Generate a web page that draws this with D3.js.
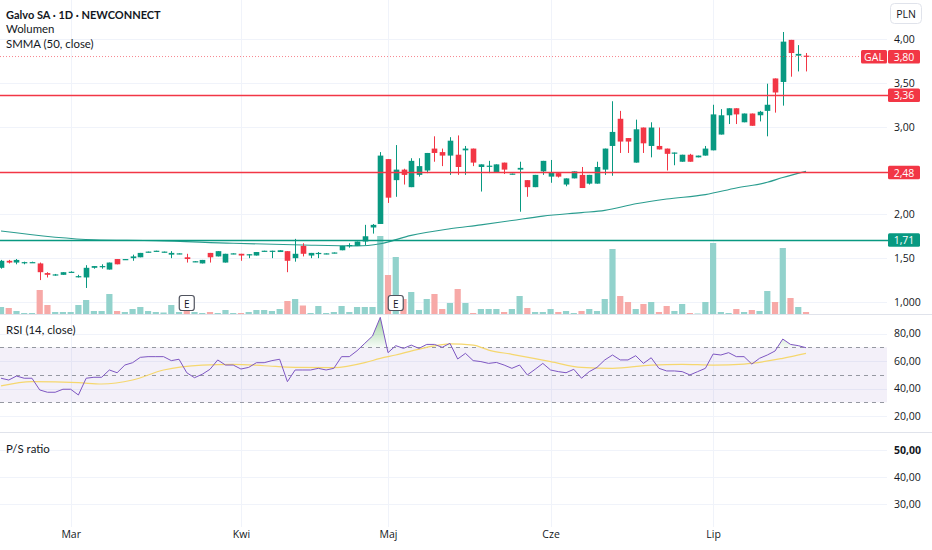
<!DOCTYPE html>
<html><head><meta charset="utf-8">
<script src="https://cdn.jsdelivr.net/npm/d3@7"></script>
<style>body{margin:0;background:#fff}svg{display:block}text{font-family:"Open Sans","Noto Sans",sans-serif}</style>
</head><body><svg id="c" width="932" height="550"></svg>
<script>
// ---- data ----
const opens = [1.39,1.47,1.45,1.45,1.45,1.44,1.33,1.31,1.31,1.34,
 1.29,1.28,1.39,1.40,1.37,1.49,1.485,1.50,1.51,1.57,
 1.58,1.57,1.54,1.55,1.51,1.46,1.44,1.56,1.52,1.45,
 1.55,1.55,1.54,1.53,1.58,1.58,1.57,1.58,1.50,1.64,
 1.53,1.55,1.55,1.56,1.59,1.64,1.64,1.69,1.85,1.89,
 2.63,2.39,2.51,2.31,2.45,2.50,2.75,2.71,2.67,2.68,
 2.73,2.75,2.54,2.55,2.48,2.59,2.46,2.51,2.39,2.31,
 2.49,2.43,2.47,2.34,2.41,2.45,2.35,2.35,2.51,2.78,
 3.09,2.87,2.59,2.99,2.78,2.78,2.75,2.70,2.60,2.68,
 2.65,2.67,2.73,2.91,3.13,3.21,3.05,3.15,3.13,3.18,
 3.55,3.51,3.99,3.81,3.81];
const highs = [1.48,1.48,1.49,1.46,1.46,1.45,1.34,1.32,1.34,1.35,
 1.31,1.42,1.41,1.43,1.45,1.49,1.49,1.54,1.56,1.575,
 1.585,1.575,1.58,1.555,1.55,1.465,1.48,1.56,1.58,1.55,
 1.555,1.55,1.545,1.57,1.585,1.585,1.59,1.58,1.72,1.67,
 1.56,1.57,1.555,1.565,1.64,1.67,1.69,1.88,1.89,2.71,
 2.63,2.79,2.52,2.64,2.64,2.70,2.89,2.75,2.88,2.90,
 2.78,2.75,2.57,2.61,2.57,2.59,2.465,2.60,2.39,2.45,
 2.61,2.62,2.48,2.41,2.49,2.54,2.45,2.60,2.75,3.29,
 3.18,2.87,3.08,2.99,3.05,2.99,2.75,2.705,2.68,2.69,
 2.67,2.78,3.25,3.20,3.21,3.21,3.15,3.15,3.18,3.49,
 3.55,4.08,3.99,3.93,3.84];
const lows = [1.38,1.44,1.43,1.43,1.45,1.25,1.28,1.30,1.31,1.34,
 1.28,1.16,1.38,1.38,1.37,1.43,1.48,1.47,1.51,1.565,
 1.575,1.565,1.50,1.545,1.45,1.455,1.44,1.45,1.52,1.45,
 1.545,1.47,1.50,1.53,1.575,1.50,1.57,1.34,1.46,1.52,
 1.50,1.50,1.545,1.555,1.59,1.62,1.64,1.65,1.78,1.89,
 2.13,2.20,2.34,2.31,2.43,2.47,2.60,2.55,2.45,2.45,
 2.45,2.55,2.26,2.47,2.48,2.46,2.455,2.03,2.20,2.31,
 2.45,2.36,2.42,2.32,2.41,2.30,2.34,2.35,2.45,2.44,
 2.70,2.70,2.59,2.70,2.65,2.74,2.50,2.56,2.60,2.60,
 2.65,2.67,2.73,2.91,3.03,3.03,3.05,3.01,3.06,2.89,
 3.16,3.24,3.57,3.63,3.63];
const closes = [1.47,1.45,1.48,1.455,1.455,1.34,1.31,1.315,1.34,1.345,
 1.295,1.39,1.41,1.41,1.45,1.43,1.49,1.52,1.56,1.575,
 1.585,1.575,1.56,1.555,1.49,1.465,1.48,1.51,1.58,1.55,
 1.555,1.53,1.545,1.57,1.585,1.585,1.59,1.47,1.55,1.55,
 1.56,1.56,1.555,1.565,1.64,1.65,1.69,1.75,1.88,2.67,
 2.19,2.51,2.45,2.61,2.55,2.70,2.70,2.67,2.84,2.54,
 2.75,2.59,2.57,2.555,2.57,2.51,2.465,2.53,2.31,2.45,
 2.61,2.48,2.43,2.41,2.49,2.30,2.45,2.54,2.75,2.94,
 2.83,2.83,2.97,2.81,2.99,2.74,2.69,2.705,2.68,2.60,
 2.67,2.75,3.14,3.13,3.21,3.14,3.15,3.01,3.17,3.25,
 3.39,3.97,3.84,3.83,3.80];
const volumes = [70,60,30,10,10,240,90,20,20,20,
 90,140,30,30,200,30,20,50,70,30,
 20,15,90,20,30,20,10,20,10,40,
 10,10,20,40,40,30,50,130,150,85,
 10,80,10,20,80,20,70,70,70,780,
 390,570,150,220,40,150,200,50,110,250,
 110,10,50,50,50,20,50,180,60,20,
 20,50,20,30,10,30,50,30,150,650,
 180,120,50,100,120,20,80,30,100,10,
 5,120,710,20,10,50,20,40,30,230,
 120,660,160,70,20];
const rsiValues = [47.5,46.2,49.1,47.5,47.5,39.0,37.3,37.3,39.5,39.5,
 35.3,47.5,48.2,48.2,53.5,51.5,57.1,58.8,62.7,63.2,
 63.2,63.2,60.3,61.3,51.5,47.9,50.4,54.0,60.8,57.1,
 57.1,54.2,55.4,58.8,58.8,60.3,61.3,45.0,53.5,53.5,
 53.5,54.7,53.5,54.7,63.2,63.2,67.5,72.9,78.2,91.8,
 66.1,71.2,69.2,71.6,69.2,72.1,72.1,70.0,72.9,61.5,
 65.6,60.3,59.6,58.3,59.0,57.1,54.7,57.1,49.9,54.0,
 58.3,53.5,52.3,51.5,54.0,47.5,52.3,55.4,60.8,64.4,
 60.8,60.8,63.9,58.3,62.4,54.7,52.8,52.8,52.3,49.9,
 52.3,54.7,65.1,64.4,66.1,63.2,63.2,57.8,62.0,64.4,
 67.3,76.0,72.1,71.2,69.7];
const rsiMaBars = [0,4,10,13,17,21,26,30,34,38,43,47,49,51,55,58,61,63,66,71,75,79,84,88,92,96,101,104];
const rsiMaValues = [41.9,45,44.3,43.3,46.2,53.5,57.1,57.6,56.6,55.4,55.2,58.8,62,64.4,70,72.5,71.6,68,64.9,59.6,55.4,54.7,57.1,57.6,57.1,57.8,62,65.6];
const smmaBars = [0,12,20,30,39,46,49,53,58,62,66,70,75,78,82,86,91,95,99,101,104];
const smmaValues = [1.81,1.71,1.70,1.67,1.65,1.64,1.665,1.76,1.835,1.88,1.93,1.98,2.02,2.045,2.12,2.175,2.225,2.30,2.365,2.42,2.49];
const levelValues = [3.36, 2.48, 1.71];
const levelLabels = ["3,36","2,48","1,71"];
const lastLabel = "3,80";
const earningsBars = [24, 51];
const monthBars = [9, 31, 50, 71, 92];
const monthLabels = ["Mar","Kwi","Maj","Cze","Lip"];
const priceTicks = [1.0, 1.5, 2.0, 3.0, 3.5, 4.0];
const priceTickLabels = ["1,000","1,50","2,00","3,00","3,50","4,00"];
const rsiTicks = [20, 40, 60, 80];
const rsiTickLabels = ["20,00","40,00","60,00","80,00"];
const rsiBands = [70, 50, 30];
const psTicks = [30, 40, 50];
const psTickLabels = ["30,00","40,00","50,00"];

// ---- chart ----
const GREEN = "#089981", RED = "#f23645", TXT = "#131722";
const PLOT_R = 887;
const svg = d3.select("#c");
const x = d3.scaleLinear().domain([0, 104]).range([1, 806]);
const yP = d3.scaleLinear().domain([1, 4]).range([302, 39]);
const yV = d3.scaleLinear().domain([0, 780]).range([314, 236]);
const yR = d3.scaleLinear().domain([30, 70]).range([402.3, 347.3]);
const yS = d3.scaleLinear().domain([30, 50]).range([504, 450]);

const defs = svg.append("defs");
defs.append("clipPath").attr("id","pclip").append("rect").attr("x",0).attr("y",0).attr("width",PLOT_R).attr("height",314);
defs.append("clipPath").attr("id","obclip").append("rect").attr("x",0).attr("y",315).attr("width",PLOT_R).attr("height",yR(70)-315);
const grad = defs.append("linearGradient").attr("id","obg").attr("gradientUnits","userSpaceOnUse")
  .attr("x1",0).attr("x2",0).attr("y1",yR(92)).attr("y2",yR(70));
grad.append("stop").attr("offset",0).attr("stop-color","#4caf50").attr("stop-opacity",0.55);
grad.append("stop").attr("offset",1).attr("stop-color","#4caf50").attr("stop-opacity",0.05);

// grid
const grid = svg.append("g").attr("stroke","#f0f3fa").attr("stroke-width",1);
monthBars.forEach(b => grid.append("line").attr("x1",Math.round(x(b))+0.5).attr("x2",Math.round(x(b))+0.5).attr("y1",0).attr("y2",527));
priceTicks.forEach(t => grid.append("line").attr("x1",0).attr("x2",PLOT_R).attr("y1",Math.round(yP(t))+0.5).attr("y2",Math.round(yP(t))+0.5));
rsiTicks.forEach(t => grid.append("line").attr("x1",0).attr("x2",PLOT_R).attr("y1",Math.round(yR(t))+0.5).attr("y2",Math.round(yR(t))+0.5));
psTicks.forEach(t => grid.append("line").attr("x1",0).attr("x2",PLOT_R).attr("y1",Math.round(yS(t))+0.5).attr("y2",Math.round(yS(t))+0.5));

// pane separators
[314.5, 432.5].forEach(yy => svg.append("line").attr("x1",0).attr("x2",932).attr("y1",yy).attr("y2",yy).attr("stroke","#e0e3eb"));

const pg = svg.append("g").attr("clip-path","url(#pclip)");
const idx = d3.range(closes.length);
const up = i => closes[i] >= opens[i];

// volume
pg.append("g").selectAll("rect").data(idx).join("rect")
  .attr("x", i => x(i) - 3.1).attr("width", 6.2)
  .attr("y", i => yV(volumes[i])).attr("height", i => Math.max(0.8, yV(0) - yV(volumes[i])))
  .attr("fill", i => up(i) ? "#92d2cc" : "#f7a9a7");

// SMMA
pg.append("path").datum(d3.range(smmaBars.length))
  .attr("d", d3.line().x(k => x(smmaBars[k])).y(k => yP(smmaValues[k])).curve(d3.curveMonotoneX))
  .attr("fill","none").attr("stroke","#2a9d8f").attr("stroke-width",1.1);

// last price dotted line
svg.append("line").attr("x1",0).attr("x2",861).attr("y1",yP(closes[104])).attr("y2",yP(closes[104]))
  .attr("stroke",RED).attr("stroke-opacity",0.6).attr("stroke-dasharray","1,2");

// horizontal levels
levelValues.forEach((v,k) => {
  svg.append("line").attr("x1",0).attr("x2",888).attr("y1",Math.round(yP(v))+0.5).attr("y2",Math.round(yP(v))+0.5)
    .attr("stroke", k===2 ? GREEN : RED).attr("stroke-width",1.4);
});

// candles
const cg = pg.append("g");
idx.forEach(i => {
  const col = up(i) ? GREEN : RED;
  const cx = Math.round(x(i)) + 0.5;
  cg.append("line").attr("x1",cx).attr("x2",cx).attr("y1",yP(highs[i])).attr("y2",yP(lows[i])).attr("stroke",col).attr("stroke-width",1);
  const top = yP(Math.max(opens[i],closes[i])), bot = yP(Math.min(opens[i],closes[i]));
  cg.append("rect").attr("x",cx-2.8).attr("width",5.6).attr("y",top).attr("height",Math.max(1.2,bot-top)).attr("fill",col);
});

// earnings markers
earningsBars.forEach(b => {
  const g = svg.append("g").attr("transform",`translate(${x(b)},303)`);
  g.append("rect").attr("x",-7.5).attr("y",-7.5).attr("width",15).attr("height",15).attr("rx",2.5)
    .attr("fill","#fff").attr("stroke","#50535e").attr("stroke-width",1.2);
  g.append("text").attr("text-anchor","middle").attr("dominant-baseline","central").attr("y",0.5)
    .attr("font-size",10).attr("fill",TXT).text("E");
});

// RSI pane
svg.append("rect").attr("x",0).attr("width",PLOT_R).attr("y",yR(70)).attr("height",yR(30)-yR(70)).attr("fill","#7e57c2").attr("fill-opacity",0.09);
rsiBands.forEach(v => svg.append("line").attr("x1",0).attr("x2",PLOT_R).attr("y1",Math.round(yR(v))+0.5).attr("y2",Math.round(yR(v))+0.5)
  .attr("stroke","#9598a1").attr("stroke-dasharray","4,4").attr("stroke-width",1));
svg.append("path").datum(idx).attr("clip-path","url(#obclip)")
  .attr("d", d3.area().x(i => x(i)).y0(yR(70)).y1(i => yR(rsiValues[i])))
  .attr("fill","url(#obg)");
svg.append("path").datum(d3.range(rsiMaBars.length))
  .attr("d", d3.line().x(k => x(rsiMaBars[k])).y(k => yR(rsiMaValues[k])).curve(d3.curveMonotoneX))
  .attr("fill","none").attr("stroke","#f5d76e").attr("stroke-width",1.2);
svg.append("path").datum(idx)
  .attr("d", d3.line().x(i => x(i)).y(i => yR(rsiValues[i])))
  .attr("fill","none").attr("stroke","#7e57c2").attr("stroke-width",1);

// axes
function styleAxis(g){ g.select(".domain").remove(); g.selectAll("line").remove();
  g.selectAll("text").attr("fill",TXT).attr("font-size",10.5).style("font-family",'"Open Sans","Noto Sans",sans-serif'); }
svg.append("g").attr("transform","translate(894,0)")
  .call(d3.axisRight(yP).tickValues(priceTicks).tickSize(0).tickPadding(0).tickFormat((d,i)=>priceTickLabels[i]))
  .call(styleAxis);
svg.append("g").attr("transform","translate(894,0)")
  .call(d3.axisRight(yR).tickValues(rsiTicks).tickSize(0).tickPadding(0).tickFormat((d,i)=>rsiTickLabels[i]))
  .call(styleAxis);
const psAx = svg.append("g").attr("transform","translate(894,0)")
  .call(d3.axisRight(yS).tickValues(psTicks).tickSize(0).tickPadding(0).tickFormat((d,i)=>psTickLabels[i]))
  .call(styleAxis);
psAx.selectAll("text").filter((d)=>d===50).attr("font-weight","bold");
svg.append("g").attr("transform","translate(0,531)")
  .call(d3.axisBottom(x).tickValues(monthBars).tickSize(0).tickPadding(0).tickFormat((d,i)=>monthLabels[i]))
  .call(styleAxis);

// price labels
function tag(xl, w, v, col, txt){
  const yy = yP(v);
  svg.append("rect").attr("x",xl).attr("y",yy-6.5).attr("width",w).attr("height",13.5).attr("rx",1.5).attr("fill",col);
  svg.append("text").attr("x",xl+w/2).attr("y",yy+0.3).attr("text-anchor","middle").attr("dominant-baseline","central")
    .attr("font-size",10.5).attr("fill","#fff").text(txt);
}
levelValues.forEach((v,k) => tag(888, 32, v, k===2 ? GREEN : RED, levelLabels[k]));
tag(888, 32, closes[104], RED, lastLabel);
tag(861, 26, closes[104], RED, "GAL");

// PLN box
svg.append("rect").attr("x",890.5).attr("y",3.5).attr("width",31).attr("height",20).attr("rx",4).attr("fill","#fff").attr("stroke","#e0e3eb");
svg.append("text").attr("x",906).attr("y",14).attr("text-anchor","middle").attr("dominant-baseline","central").attr("font-size",10.5).attr("fill",TXT).text("PLN");

// legends
const LF = "Lato,'Open Sans',sans-serif";
const lg = svg.append("g").attr("fill",TXT).attr("font-size",11.4);
lg.append("text").attr("x",6).attr("y",14).attr("dominant-baseline","central").attr("font-weight","bold").attr("font-size",11).style("font-family",LF).text("Galvo SA · 1D · NEWCONNECT");
lg.append("text").attr("x",6).attr("y",28.5).attr("dominant-baseline","central").style("font-family",LF).text("Wolumen");
lg.append("text").attr("x",6).attr("y",43).attr("dominant-baseline","central").style("font-family",LF).text("SMMA (50, close)");
lg.append("text").attr("x",6).attr("y",329).attr("dominant-baseline","central").style("font-family",LF).text("RSI (14, close)");
lg.append("text").attr("x",6).attr("y",448).attr("dominant-baseline","central").style("font-family",LF).text("P/S ratio");
</script></body></html>
